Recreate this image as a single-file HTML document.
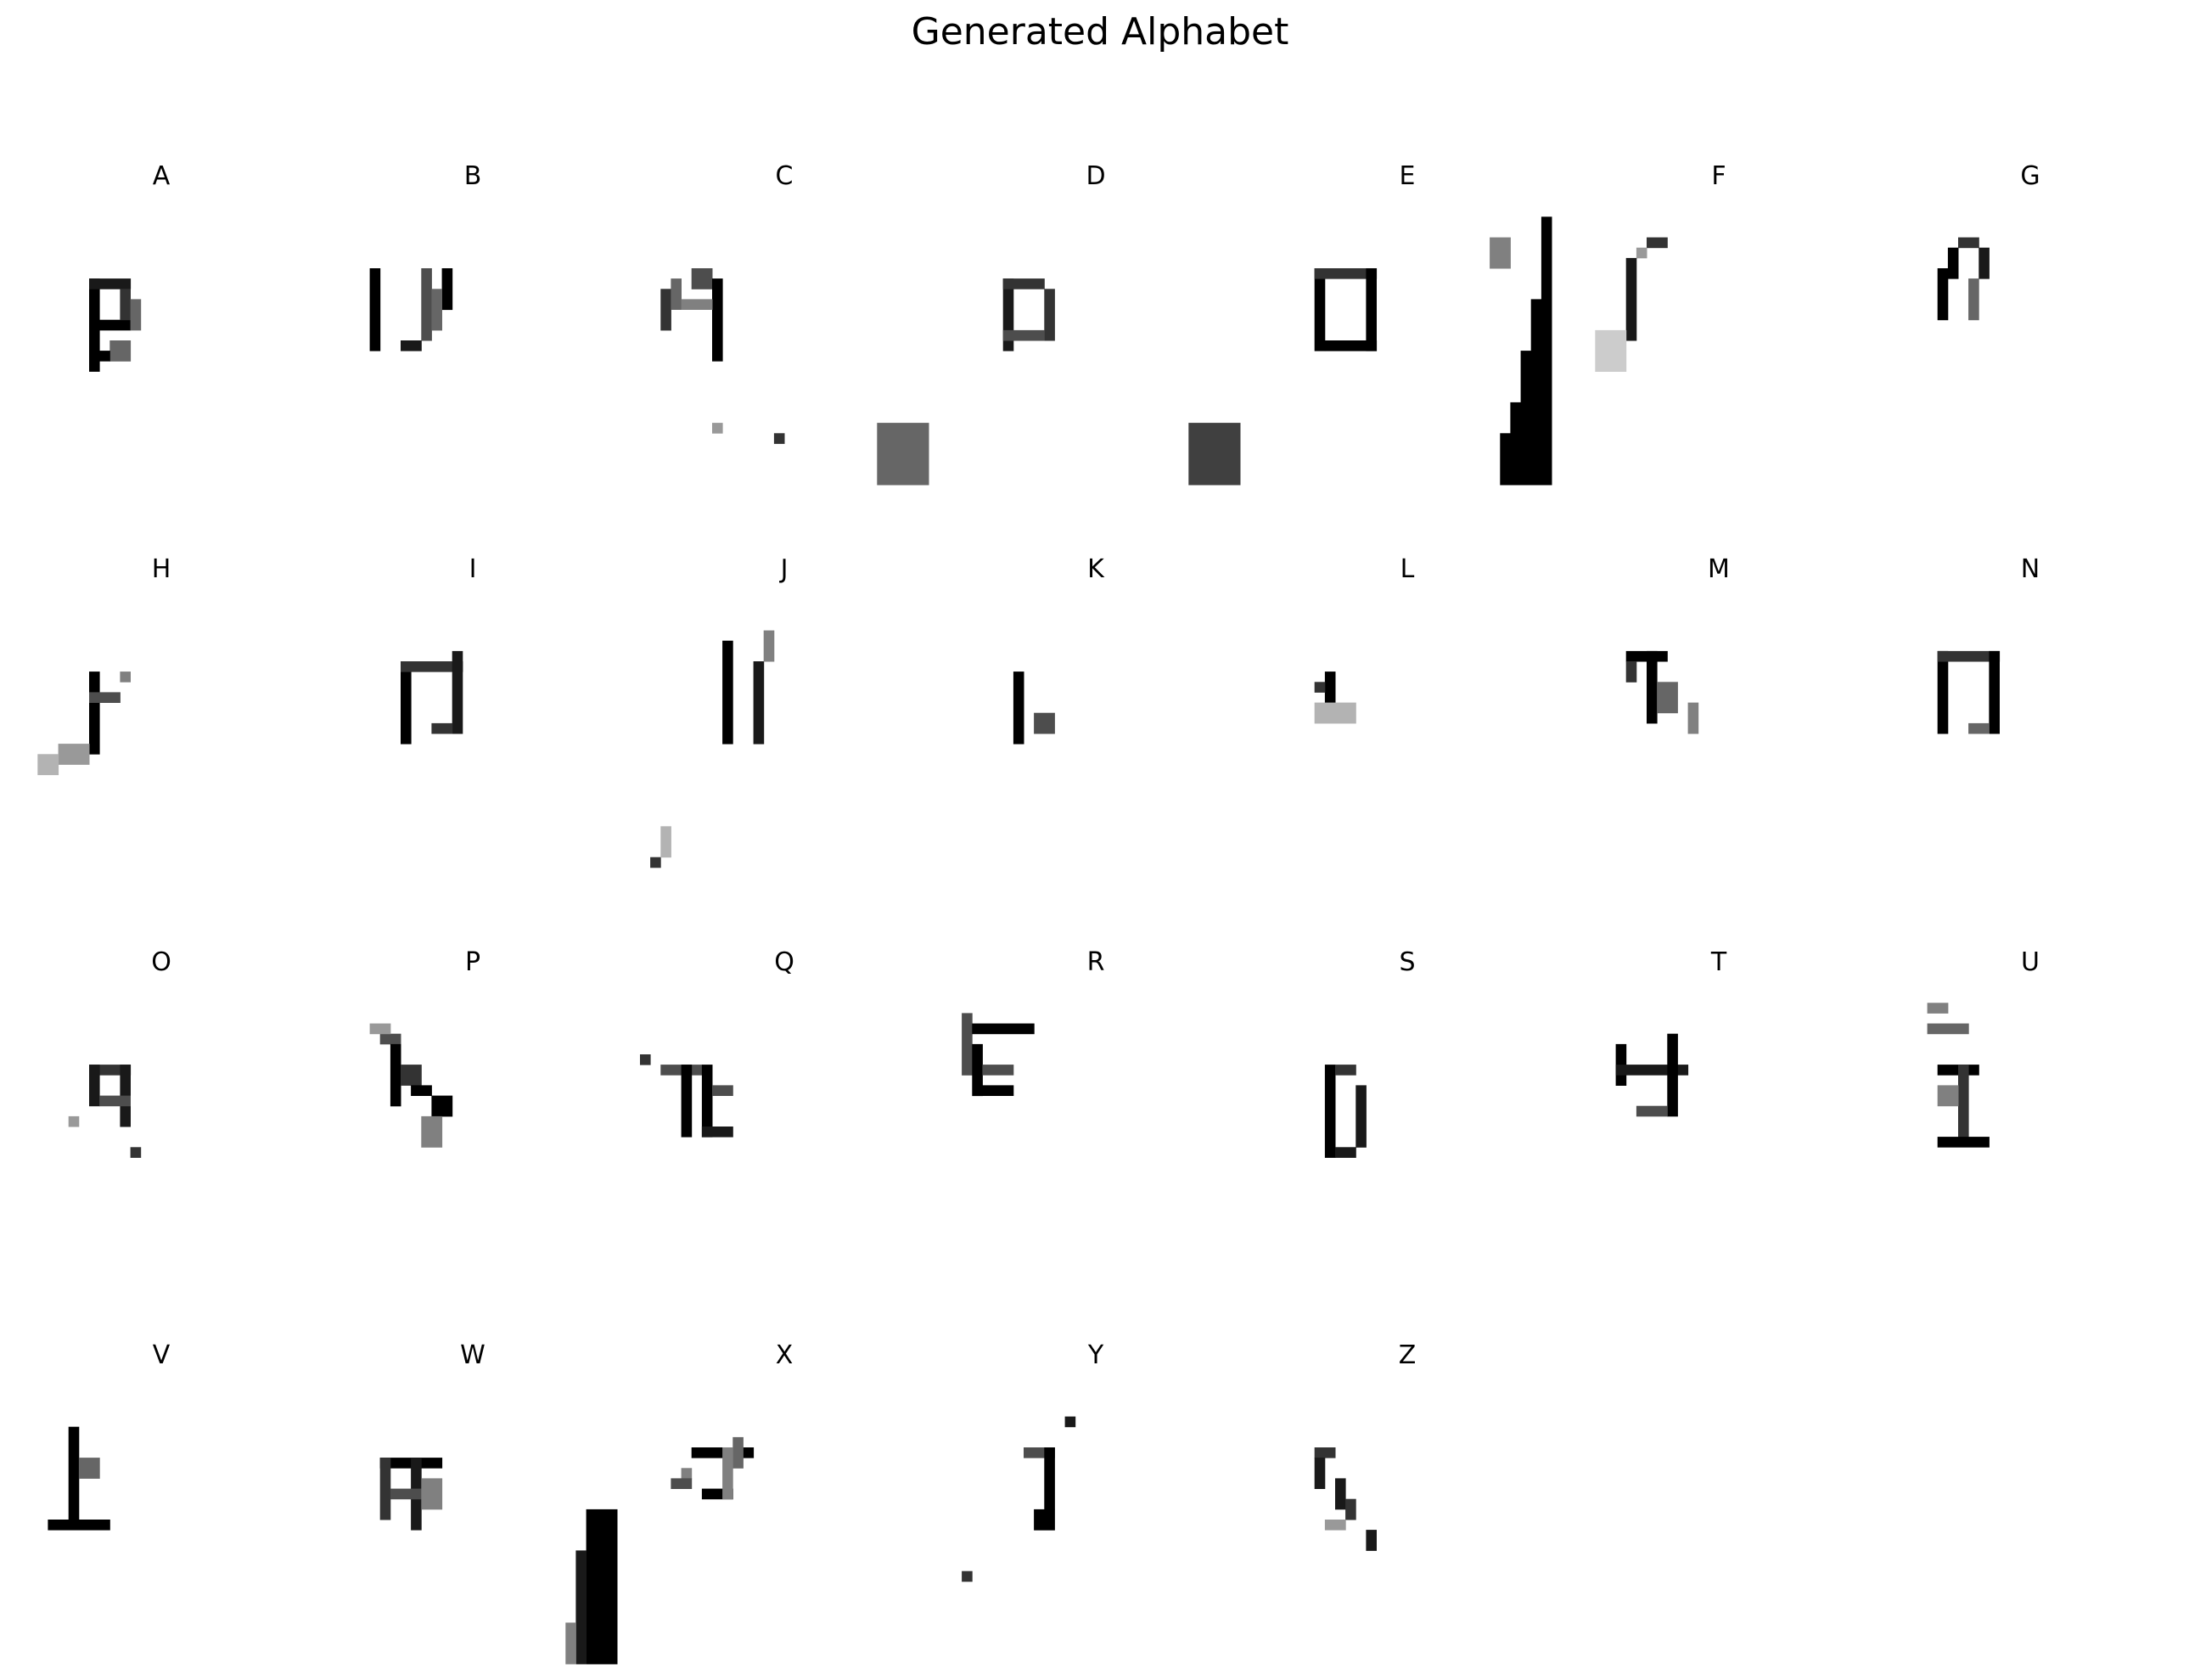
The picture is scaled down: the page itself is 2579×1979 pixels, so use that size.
<!DOCTYPE html>
<html><head><meta charset="utf-8"><style>
html,body{margin:0;padding:0;background:#fff;}
svg{display:block;}
text{font-family:"DejaVu Sans","Liberation Sans",sans-serif;fill:#000;}
</style></head><body>
<svg id="fig" width="2579" height="1979" viewBox="0 0 2579 1979" xmlns="http://www.w3.org/2000/svg">
<rect x="0" y="0" width="2579" height="1979" fill="#fff"/>
<text x="1296" y="52" font-size="44" text-anchor="middle">Generated Alphabet</text>
<g id="tiles"></g>
</svg>
<script>
const letters = ["A","B","C","D","E","F","G","H","I","J","K","L","M","N","O","P","Q","R","S","T","U","V","W","X","Y","Z"];
const strokes = [
 [[7,8,1,9,1],[7,8,4,1,0.9],[7,12,4,1,1],[10,9,1,3,0.8],[11,10,1,3,0.6],[9,14,2,2,0.6],[7,15,2,1,1]],
 [[4,7,1,8,1],[7,14,2,1,0.9],[9,7,1,7,0.7],[11,7,1,4,1],[10,9,1,4,0.6]],
 [[2,9,1,4,0.8],[3,8,1,3,0.6],[5,7,2,2,0.7],[7,8,1,8,1],[4,10,3,1,0.5],[23,22,5,6,0.6],[7,22,1,1,0.4],[13,23,1,1,0.8]],
 [[5,8,1,7,0.9],[5,8,4,1,0.8],[9,9,1,5,0.8],[5,13,4,1,0.7],[23,22,5,6,0.75]],
 [[5,7,1,8,1],[5,7,6,1,0.8],[10,7,1,8,1],[6,14,5,1,1],[27,2,1,26,1],[26,10,1,18,1],[25,15,1,13,1],[24,20,1,8,1],[23,23,1,5,1],[22,4,2,3,0.5]],
 [[7,4,2,1,0.8],[6,5,1,1,0.4],[5,6,1,8,0.9],[2,13,3,4,0.2]],
 [[5,7,1,5,1],[6,5,1,3,1],[7,4,2,1,0.8],[9,5,1,3,0.9],[8,8,1,4,0.6]],
 [[7,8,1,8,1],[7,10,3,1,0.7],[4,15,3,2,0.4],[2,16,2,2,0.3],[10,8,1,1,0.5]],
 [[7,7,1,8,1],[7,7,6,1,0.8],[12,6,1,8,0.9],[10,13,2,1,0.8]],
 [[8,5,1,10,1],[11,7,1,8,0.9],[12,4,1,3,0.5],[1,26,1,1,0.8],[2,23,1,3,0.3]],
 [[6,8,1,7,1],[8,12,2,2,0.7]],
 [[6,8,1,3,1],[5,9,1,1,0.8],[5,11,4,2,0.3]],
 [[5,6,4,1,1],[7,6,1,7,1],[5,7,1,2,0.8],[8,9,2,3,0.6],[11,11,1,3,0.5]],
 [[5,6,1,8,1],[5,6,6,1,0.8],[10,6,1,8,1],[8,13,2,1,0.6]],
 [[7,8,4,1,0.8],[7,8,1,4,0.9],[10,8,1,6,0.9],[8,11,3,1,0.7],[11,16,1,1,0.8],[5,13,1,1,0.4]],
 [[5,5,2,1,0.7],[6,6,1,6,1],[7,8,2,2,0.8],[8,10,2,1,1],[10,11,2,2,1],[9,13,2,3,0.5],[4,4,2,1,0.4]],
 [[0,7,1,1,0.8],[2,8,4,1,0.7],[4,8,1,7,1],[6,8,1,7,1],[7,10,2,1,0.7],[6,14,3,1,0.9]],
 [[1,3,1,6,0.7],[2,4,6,1,1],[2,6,1,5,1],[3,8,3,1,0.7],[3,10,3,1,1]],
 [[6,8,1,9,1],[7,8,2,1,0.8],[9,10,1,6,0.9],[7,16,2,1,0.9]],
 [[4,6,1,4,1],[4,8,7,1,0.9],[9,5,1,8,1],[6,12,3,1,0.7]],
 [[4,2,2,1,0.5],[4,4,4,1,0.6],[5,8,4,1,1],[7,8,1,7,0.8],[5,15,5,1,1],[5,10,2,2,0.5]],
 [[5,5,1,9,1],[3,14,6,1,1],[6,8,2,2,0.6]],
 [[5,8,6,1,1],[5,8,1,6,0.8],[8,8,1,7,0.9],[6,11,4,1,0.7],[9,10,2,3,0.5],[25,13,3,15,1],[24,17,1,11,0.9],[23,24,1,4,0.5]],
 [[5,7,6,1,1],[9,6,1,3,0.6],[6,11,3,1,1],[4,9,1,1,0.5],[3,10,2,1,0.7],[8,7,1,5,0.5]],
 [[11,4,1,1,0.9],[7,7,3,1,0.7],[9,7,1,6,1],[8,13,2,2,1],[1,19,1,1,0.8]],
 [[5,7,2,1,0.8],[5,8,1,3,0.9],[7,10,1,3,0.9],[8,12,1,2,0.8],[10,15,1,2,0.9],[6,14,2,1,0.4]]
];
const NS="http://www.w3.org/2000/svg";
const tileSize=340, px=tileSize/28, colPitch=367, rowPitch=463, left0=20, top0=231;
const g=document.getElementById('tiles');
letters.forEach((L,i)=>{
  const c=i%7, r=Math.floor(i/7);
  const x0=left0+c*colPitch, y0=top0+r*rowPitch;
  const grp=document.createElementNS(NS,'g');
  
  
  const t=document.createElementNS(NS,'text');
  
  
  t.setAttribute('x',x0+tileSize/2);t.setAttribute('y',y0-14);
  t.setAttribute('font-size','30');t.setAttribute('text-anchor','middle');
  t.textContent=L;grp.appendChild(t);
  strokes[i].forEach(s=>{
    const rc=document.createElementNS(NS,'rect');
    
    
    rc.setAttribute('x',(x0+s[0]*px).toFixed(1));rc.setAttribute('y',(y0+s[1]*px).toFixed(1));
    rc.setAttribute('width',(s[2]*px+0.5).toFixed(1));rc.setAttribute('height',(s[3]*px+0.5).toFixed(1));
    const v=Math.round(255*(1-s[4]));
    rc.setAttribute('fill','rgb('+v+','+v+','+v+')');
    grp.appendChild(rc);
  });
  g.appendChild(grp);
});
</script>
</body></html>
